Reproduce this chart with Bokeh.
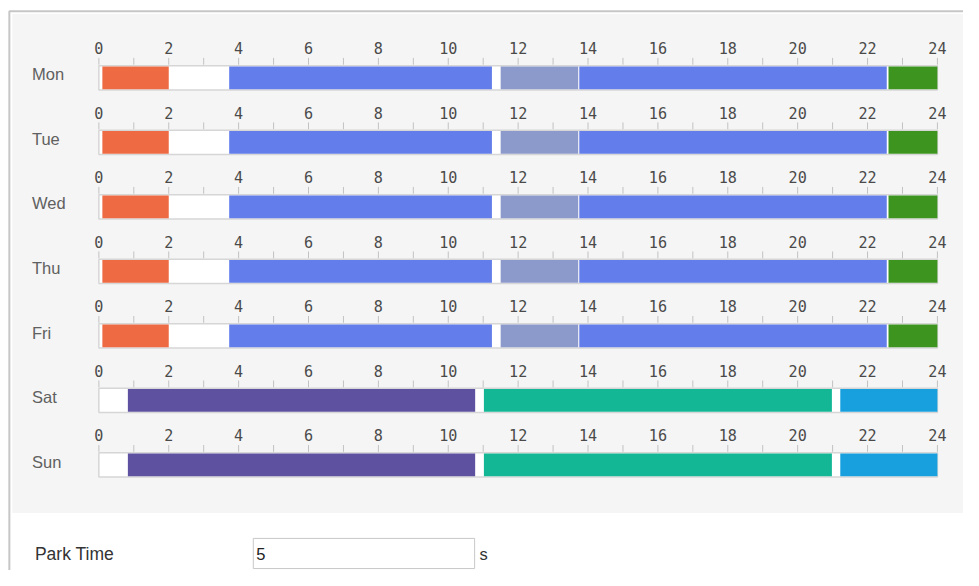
from bokeh.plotting import figure
from bokeh.models import ColumnDataSource, Range1d
from bokeh.core.properties import value
from bokeh.embed import file_html
from bokeh.resources import INLINE

# ---------------- data ----------------
days = ["Mon", "Tue", "Wed", "Thu", "Fri", "Sat", "Sun"]
hour_ticks = list(range(0, 25))
hour_labels = [str(h) for h in range(0, 25, 2)]

weekday_start = [0.1, 3.73, 11.5, 13.75, 22.6]
weekday_end = [2.0, 11.25, 13.72, 22.55, 24.0]
weekday_mode = ["orange", "blue", "slate", "blue", "green"]

weekend_start = [0.83, 11.02, 21.22]
weekend_end = [10.77, 20.98, 24.0]
weekend_mode = ["purple", "teal", "sky"]

day_plan = {"Mon": "weekday", "Tue": "weekday", "Wed": "weekday", "Thu": "weekday",
            "Fri": "weekday", "Sat": "weekend", "Sun": "weekend"}

park_label = "Park Time"
park_value = "5"
park_unit = "s"

# ---------------- styles ----------------
palette = {"orange": "#ee6a43", "blue": "#637eeb", "slate": "#8c99cb",
           "green": "#3d951f", "purple": "#5e519f", "teal": "#14b795", "sky": "#18a0de"}

W, H = 963, 570
REF_W, REF_H = 979, 586   # layout is laid out in reference pixel space
PXH = 35.52               # reference pixels per hour
X0 = 100.0                # reference x of hour 0
P = 66.33                 # row pitch (reference px)
Y0 = 79.5                 # reference y of first bar centre
FS = H / REF_H            # font scale


def hx(px):  # reference x -> hour units
    return (px - X0) / PXH


def ry(py):  # reference y -> row units
    return (py - Y0) / P


def fs(px):
    return f"{px * FS:.1f}px"


p = figure(width=W, height=H, output_backend="svg", toolbar_location=None,
           x_range=Range1d(hx(0), hx(REF_W)), y_range=Range1d(ry(REF_H), ry(0)),
           min_border=0, min_border_left=0, min_border_right=0,
           min_border_top=0, min_border_bottom=0)
p.axis.visible = False
p.grid.visible = False
p.outline_line_color = None
p.background_fill_color = "white"
p.border_fill_color = "white"

# frame border and panel
p.quad(left=[hx(9)], right=[hx(1000)], top=[ry(11)], bottom=[ry(700)],
       fill_color=None, line_color="#c6c6c6", line_width=2)
p.quad(left=[hx(12)], right=[hx(1000)], top=[ry(14)], bottom=[ry(527)],
       fill_color="#f5f5f5", line_color=None)

rows = list(range(len(days)))

# bar backgrounds
p.quad(left=[0] * len(rows), right=[24] * len(rows),
       top=[r - 12.5 / P for r in rows], bottom=[r + 12.5 / P for r in rows],
       fill_color="white", line_color="#d6d6d6", line_width=1.5)

# segments
seg = {"y": [], "left": [], "right": [], "color": []}
for r, d in zip(rows, days):
    if day_plan[d] == "weekday":
        s, e, m = weekday_start, weekday_end, weekday_mode
    else:
        s, e, m = weekend_start, weekend_end, weekend_mode
    for a, b, c in zip(s, e, m):
        seg["y"].append(r)
        seg["left"].append(a)
        seg["right"].append(b)
        seg["color"].append(palette[c])
p.hbar(y="y", left="left", right="right", height=23.5 / P, fill_color="color",
       line_color=None, source=ColumnDataSource(seg))

# tick marks
tx, ty0, ty1 = [], [], []
for r in rows:
    for h in hour_ticks:
        tx.append(h)
        ty0.append(r - 20.5 / P)
        ty1.append(r - 13.5 / P)
p.segment(x0=tx, x1=tx, y0=ty0, y1=ty1, line_color="#c2c2c2", line_width=1)

# tick labels
lx, ly, lt = [], [], []
for r in rows:
    for lab in hour_labels:
        lx.append(int(lab))
        ly.append(r - 30.5 / P)
        lt.append(lab)
p.text(x=lx, y=ly, text=lt, text_font=value("DejaVu Sans Mono"),
       text_font_size=fs(15.5), text_color="#4a4a4a", text_align="center",
       text_baseline="middle")

# day labels
p.text(x=[hx(32)] * len(days), y=[r - 3.5 / P for r in rows], text=days,
       text_font=value("Liberation Sans"), text_font_size=fs(17),
       text_color="#606060", text_align="left", text_baseline="middle")

# park time field
p.text(x=[hx(35)], y=[ry(569)], text=[park_label], text_font=value("Liberation Sans"),
       text_font_size=fs(18), text_color="#333333", text_align="left",
       text_baseline="middle")
p.quad(left=[hx(257)], right=[hx(482)], top=[ry(553)], bottom=[ry(584)],
       fill_color="white", line_color="#c8c8c8", line_width=1)
p.text(x=[hx(260)], y=[ry(569)], text=[park_value], text_font=value("Liberation Sans"),
       text_font_size=fs(17), text_color="#222222", text_align="left",
       text_baseline="middle")
p.text(x=[hx(487)], y=[ry(569)], text=[park_unit], text_font=value("Liberation Sans"),
       text_font_size=fs(17), text_color="#333333", text_align="left",
       text_baseline="middle")

open("out.html", "w").write(file_html(p, INLINE))
